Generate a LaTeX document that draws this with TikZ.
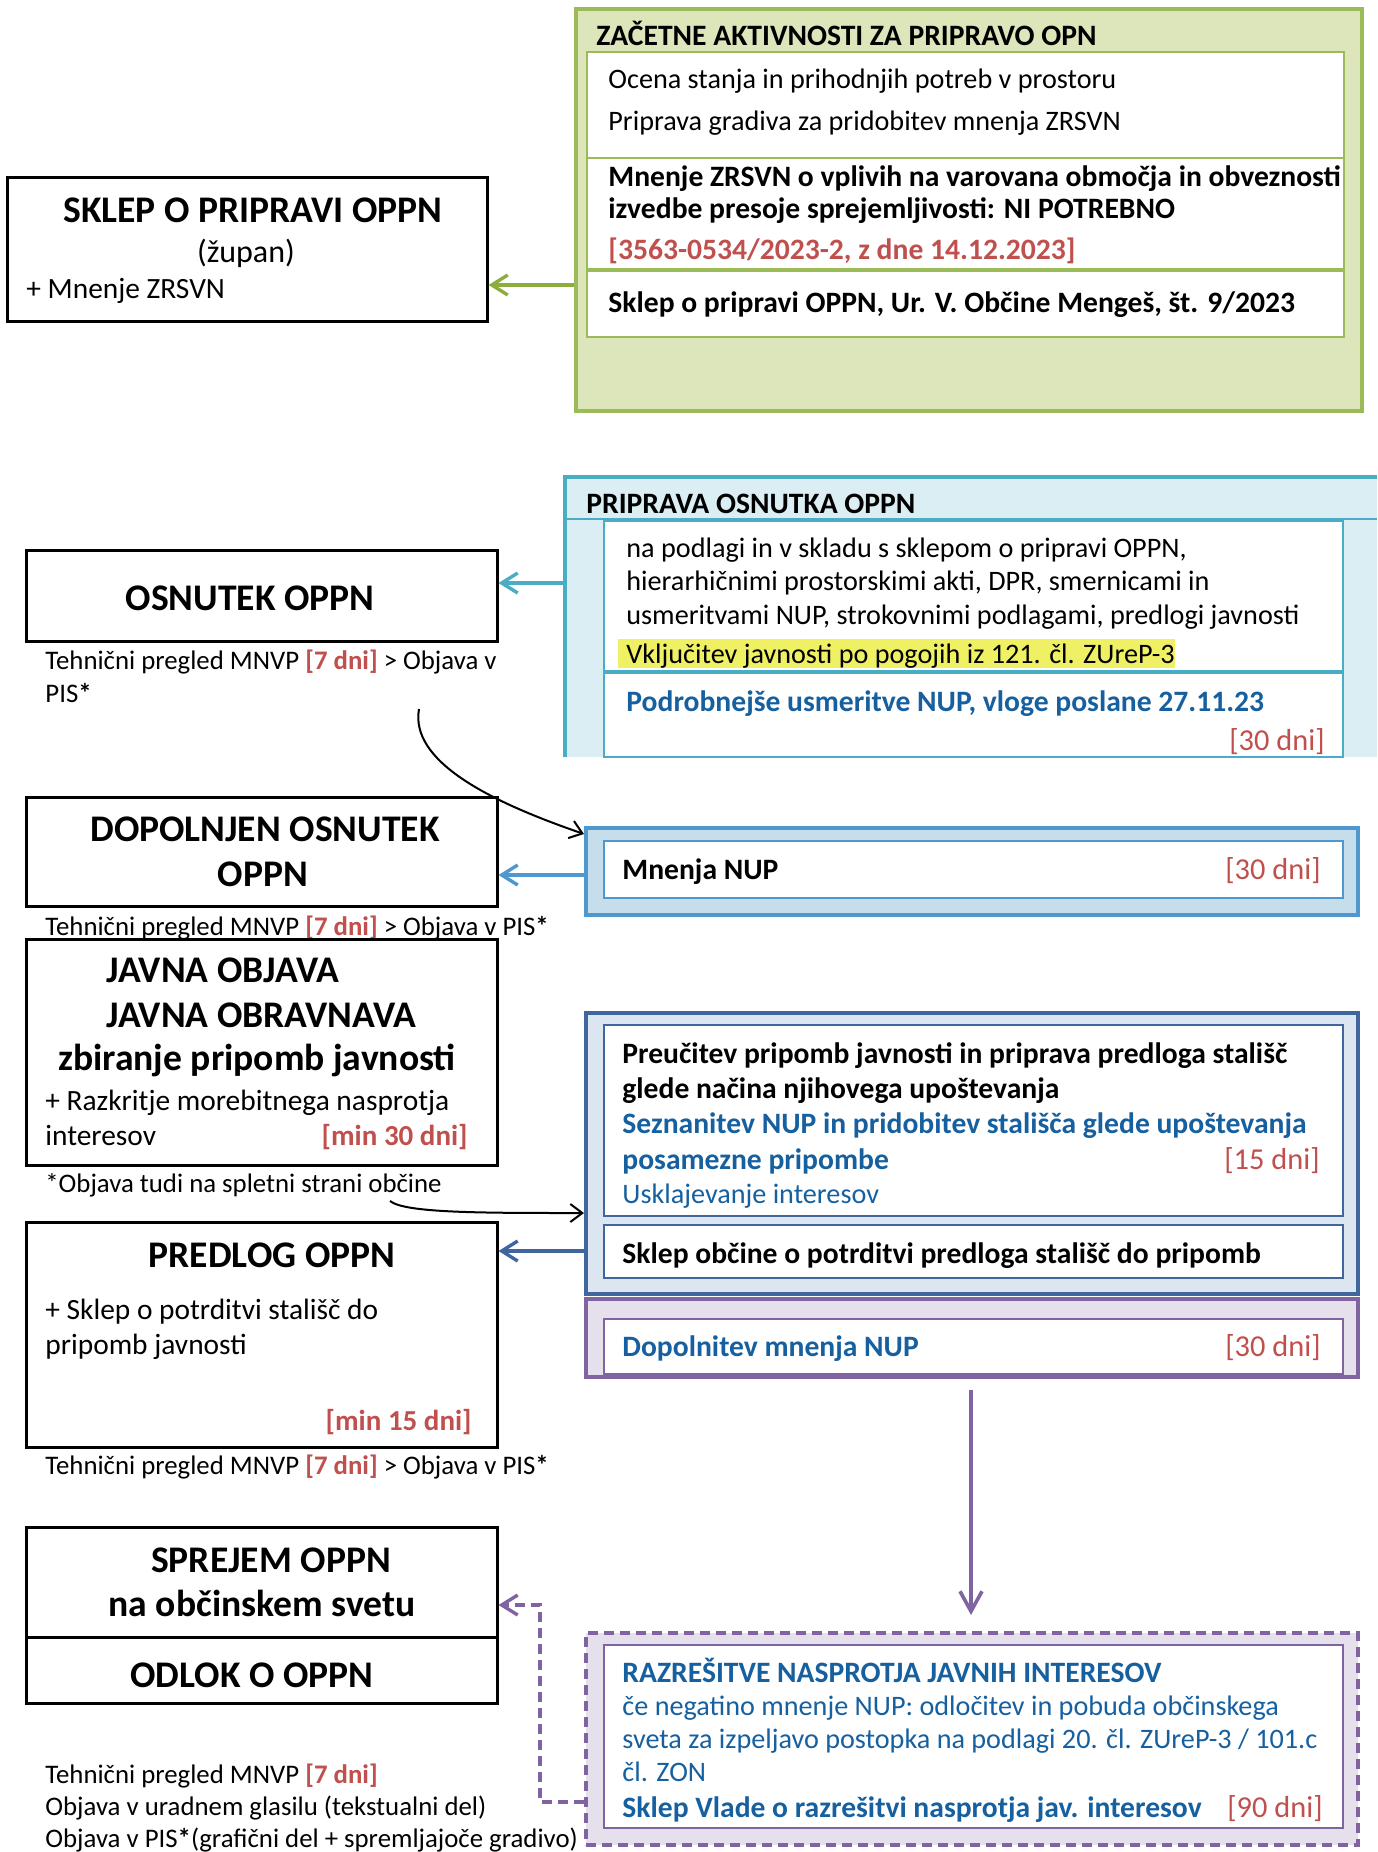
\documentclass[tikz,border=0pt]{standalone}
\usepackage{fontspec}
\setmainfont{Carlito}
\usetikzlibrary{arrows.meta,fit}
\definecolor{grn}{HTML}{9BBB59}
\definecolor{grnfill}{HTML}{DDE5BB}
\definecolor{grnarr}{HTML}{8DAE3E}
\definecolor{aqua}{HTML}{4BACC6}
\definecolor{aquafill}{HTML}{DAEEF3}
\definecolor{mblue}{HTML}{4F98CF}
\definecolor{mbluefill}{HTML}{C6DDEC}
\definecolor{dblue}{HTML}{41669E}
\definecolor{dbluefill}{HTML}{DCE6F1}
\definecolor{purp}{HTML}{8064A2}
\definecolor{purpfill}{HTML}{E5E0EC}
\definecolor{rd}{HTML}{C0504D}
\definecolor{tblue}{HTML}{1660A0}
\definecolor{hl}{HTML}{F0F064}
\newcommand\fb{\fontsize{14.1}{17}\selectfont}
\newcommand\fbb{\fontsize{14.8}{18}\selectfont\bfseries}
\newcommand\fl{\fontsize{13.4}{16}\selectfont}
\newcommand\fin{\fontsize{14.7}{18}\selectfont}
\newcommand\fr{\fontsize{15.2}{18}\selectfont}
\newcommand\fh{\fontsize{18.8}{22}\selectfont\bfseries}
\newcommand\rdb[1]{\textcolor{rd}{\textbf{#1}}}
\begin{document}
\begin{tikzpicture}[x=0.5pt,y=-0.5pt,
  bx/.style={inner sep=0pt, draw=black, line width=1.5pt, fill=white},
  tx/.style={inner sep=0pt, font=\fb},
  tb/.style={inner sep=0pt, font=\fbb},
  tl/.style={inner sep=0pt, font=\fl},
  ti/.style={inner sep=0pt, font=\fin},
  tr/.style={inner sep=0pt, font=\fr, text=rd},
  th/.style={inner sep=0pt, font=\fh},
  arr/.style={line width=1.7pt, -{Straight Barb[length=8pt,width=10pt,line width=1.7pt]}},
  varr/.style={line width=1.8pt, -{Straight Barb[length=10pt,width=11pt,line width=1.8pt]}},
  carr/.style={line width=1pt, black, -{Straight Barb[length=6pt,width=9pt,line width=1pt]}}]
\useasboundingbox (0,0) rectangle (1377,1852);
\fill[white] (0,0) rectangle (1377,1852);

% ---------- green group
\node[fit={(576,9)(1362,411)}, inner sep=0pt, draw=grn, line width=2pt, fill=grnfill] (zac) {};
\node[fit={(587,52)(1344,158)}, inner sep=0pt, draw=grn, line width=1.2pt, fill=white] (zac1) {};
\node[fit={(587,158)(1344,269)}, inner sep=0pt, draw=grn, line width=1.2pt, fill=white] (zac2) {};
\node[fit={(587,269)(1344,337)}, inner sep=0pt, draw=grn, line width=1.2pt, fill=white] (zac3) {};
\draw[grn, line width=2pt] (zac2.south west) -- (zac2.south east);
\node[tb, anchor=base west] (zt) at (596,45) {ZAČETNE AKTIVNOSTI ZA PRIPRAVO OPN};
\node[tx, anchor=base west] (z1) at (608,88) {Ocena stanja in prihodnjih potreb v prostoru};
\node[tx, anchor=base west] (z2) at (608,130) {Priprava gradiva za pridobitev mnenja ZRSVN};
\node[tb, anchor=base west] (z3) at (608,186) {Mnenje ZRSVN o vplivih na varovana območja in obveznosti};
\node[tb, anchor=base west] (z4) at (608,218) {izvedbe presoje sprejemljivosti: NI POTREBNO};
\node[tb, anchor=base west, text=rd] (z5) at (608,259) {[3563-0534/2023-2, z dne 14.12.2023]};
\node[tb, anchor=base west] (z6) at (608,312) {Sklep o pripravi OPPN, Ur. V. Občine Mengeš, št. 9/2023};

% ---------- SKLEP
\node[bx, fit={(7,177)(487,321)}] (sklep) {};
\node[th, anchor=base] (s1) at (253,222) {SKLEP O PRIPRAVI OPPN};
\node[inner sep=0pt, font=\fontsize{16}{19}\selectfont, anchor=base] (s2) at (246,262) {(župan)};
\node[ti, anchor=base west] (s3) at (26,298) {+ Mnenje ZRSVN};
\draw[arr, grnarr] (zac.west |- 0,285) -- (sklep.east |- 0,285);

% ---------- PRIPRAVA OSNUTKA
\node[fit={(565,477)(1377,757)}, inner sep=0pt, fill=aquafill] (prip) {};
\draw[aqua, line width=2pt] (prip.south west) -- (prip.north west) -- (prip.north east);
\draw[aqua, line width=1.2pt] (565,519) -- (1377,519);
\node[fit={(604,521)(1343,671)}, inner sep=0pt, draw=aqua, line width=1.2pt, fill=white] (prip1) {};
\node[fit={(604,673)(1343,757)}, inner sep=0pt, draw=aqua, line width=1.2pt, fill=white] (prip2) {};
\node[fit={(618,639)(1175,668)}, inner sep=0pt, fill=hl] (hlb) {};
\node[tb, anchor=base west] (pt) at (586,513) {PRIPRAVA OSNUTKA OPPN};
\node[tx, anchor=base west] (p1) at (626,557) {na podlagi in v skladu s sklepom o pripravi OPPN,};
\node[tx, anchor=base west] (p2) at (626,590) {hierarhičnimi prostorskimi akti, DPR, smernicami in};
\node[tx, anchor=base west] (p3) at (626,624) {usmeritvami NUP, strokovnimi podlagami, predlogi javnosti};
\node[tx, anchor=base west] (p4) at (626,663) {Vključitev javnosti po pogojih iz 121. čl. ZUreP-3};
\node[tb, anchor=base west, text=tblue] (p5) at (626,711) {Podrobnejše usmeritve NUP, vloge poslane 27.11.23};
\node[tr, anchor=base east] (p6) at (1325,750) {[30 dni]};

% ---------- OSNUTEK
\node[bx, fit={(26,550)(497,641)}] (osn) {};
\node[th, anchor=base] (o1) at (250,610) {OSNUTEK OPPN};
\node[tl, anchor=base west] (o2) at (45,669) {Tehnični pregled MNVP \rdb{[7 dni]} > Objava v};
\node[tl, anchor=base west] (o3) at (45,702) {PIS\textbf{*}};
\draw[arr, aqua] (prip.west |- 0,583) -- (osn.east |- 0,583);

% ---------- Mnenja NUP
\node[fit={(586,828)(1358,915)}, inner sep=0pt, draw=mblue, line width=2pt, fill=mbluefill] (mnup) {};
\node[fit={(604,841)(1343,898)}, inner sep=0pt, draw=mblue, line width=1.2pt, fill=white] (mnup1) {};
\node[tb, anchor=base west] (m1) at (622,879) {Mnenja NUP};
\node[tr, anchor=base east] (m2) at (1321,879) {[30 dni]};

% ---------- DOPOLNJEN
\node[bx, fit={(26,797)(497,906)}] (dopo) {};
\node[th, anchor=base] (d1) at (265,841) {DOPOLNJEN OSNUTEK};
\node[th, anchor=base] (d2) at (263,886) {OPPN};
\node[tl, anchor=base west] (d3) at (45,935) {Tehnični pregled MNVP \rdb{[7 dni]} > Objava v PIS\textbf{*}};
\draw[arr, mblue] (mnup.west |- 0,875) -- (dopo.east |- 0,875);

\coordinate (c1) at (419,709);
\draw[carr] (c1) .. controls (410,760) and (485,800) .. (mnup.west |- 0,834);

% ---------- JAVNA
\node[bx, fit={(26,939)(497,1165)}] (javna) {};
\node[th, anchor=base west] (j1) at (106,982) {JAVNA OBJAVA};
\node[th, anchor=base west] (j2) at (106,1027) {JAVNA OBRAVNAVA};
\node[th, anchor=base] (j3) at (257,1070) {zbiranje pripomb javnosti};
\node[ti, anchor=base west] (j4) at (45,1110) {+ Razkritje morebitnega nasprotja};
\node[ti, anchor=base west] (j5) at (45,1145) {interesov};
\node[inner sep=0pt, font=\fontsize{14.5}{17}\selectfont\bfseries, text=rd, anchor=base east] (j6) at (468,1145) {[min 30 dni]};
\node[tl, anchor=base west] (j7) at (45,1192) {*Objava tudi na spletni strani občine};

% ---------- Preucitev
\node[fit={(586,1013)(1358,1294)}, inner sep=0pt, draw=dblue, line width=2pt, fill=dbluefill] (preu) {};
\node[fit={(604,1025)(1343,1216)}, inner sep=0pt, draw=dblue, line width=1.2pt, fill=white] (preu1) {};
\node[fit={(604,1225)(1343,1278)}, inner sep=0pt, draw=dblue, line width=1.2pt, fill=white] (preu2) {};
\node[tb, anchor=base west] (r1) at (622,1063) {Preučitev pripomb javnosti in priprava predloga stališč};
\node[tb, anchor=base west] (r2) at (622,1098) {glede načina njihovega upoštevanja};
\node[tb, anchor=base west, text=tblue] (r3) at (622,1133) {Seznanitev NUP in pridobitev stališča glede upoštevanja};
\node[tb, anchor=base west, text=tblue] (r4) at (622,1169) {posamezne pripombe};
\node[tr, anchor=base east] (r5) at (1320,1169) {[15 dni]};
\node[tx, anchor=base west, text=tblue] (r6) at (622,1203) {Usklajevanje interesov};
\node[tb, anchor=base west] (r7) at (622,1263) {Sklep občine o potrditvi predloga stališč do pripomb};

\coordinate (c2) at (390,1201);
\draw[carr] (c2) .. controls (405,1213) and (480,1213) .. (preu.west |- 0,1213);

% ---------- Dopolnitev
\node[fit={(586,1299)(1358,1377)}, inner sep=0pt, draw=purp, line width=2pt, fill=purpfill] (dopn) {};
\node[fit={(604,1319)(1343,1374)}, inner sep=0pt, draw=purp, line width=1.2pt, fill=white] (dopn1) {};
\node[tb, anchor=base west, text=tblue] (n1) at (622,1356) {Dopolnitev mnenja NUP};
\node[tr, anchor=base east] (n2) at (1321,1356) {[30 dni]};

% ---------- PREDLOG
\node[bx, fit={(26,1222)(497,1447)}] (pred) {};
\node[th, anchor=base] (e1) at (272,1267) {PREDLOG OPPN};
\node[ti, anchor=base west] (e2) at (45,1319) {+ Sklep o potrditvi stališč do};
\node[ti, anchor=base west] (e3) at (45,1354) {pripomb javnosti};
\node[inner sep=0pt, font=\fontsize{14.5}{17}\selectfont\bfseries, text=rd, anchor=base east] (e4) at (472,1430) {[min 15 dni]};
\node[tl, anchor=base west] (e5) at (45,1474) {Tehnični pregled MNVP \rdb{[7 dni]} > Objava v PIS\textbf{*}};
\draw[arr, dblue] (preu.west |- 0,1251) -- (pred.east |- 0,1251);

% ---------- SPREJEM
\node[bx, fit={(26,1527)(497,1637)}] (sprej) {};
\node[bx, fit={(26,1637)(497,1703)}] (odlok) {};
\node[th, anchor=base] (f1) at (271,1572) {SPREJEM OPPN};
\node[th, anchor=base] (f2) at (262,1616) {na občinskem svetu};
\node[th, anchor=base] (f3) at (252,1687) {ODLOK O OPPN};
\node[tl, anchor=base west] (b1) at (45,1783) {Tehnični pregled MNVP \rdb{[7 dni]}};
\node[tl, anchor=base west] (b2) at (45,1815) {Objava v uradnem glasilu (tekstualni del)};
\node[tl, anchor=base west] (b3) at (45,1847) {Objava v PIS\textbf{*}(grafični del + spremljajoče gradivo)};

% ---------- RAZRESITVE
\node[fit={(586,1633)(1358,1845)}, inner sep=0pt, draw=purp, line width=2pt, dash pattern=on 5pt off 3pt, fill=purpfill] (raz) {};
\node[fit={(604,1645)(1343,1828)}, inner sep=0pt, draw=purp, line width=1pt, fill=white] (raz1) {};
\node[tb, anchor=base west, text=tblue] (z7) at (622,1682) {RAZREŠITVE NASPROTJA JAVNIH INTERESOV};
\node[tx, anchor=base west, text=tblue] (z8) at (622,1715) {če negatino mnenje NUP: odločitev in pobuda občinskega};
\node[tx, anchor=base west, text=tblue] (z9) at (622,1748) {sveta za izpeljavo postopka na podlagi 20. čl. ZUreP-3 / 101.c};
\node[tx, anchor=base west, text=tblue] (z10) at (622,1781) {čl. ZON};
\node[tb, anchor=base west, text=tblue] (z11) at (622,1817) {Sklep Vlade o razrešitvi nasprotja jav. interesov};
\node[tr, anchor=base east] (z12) at (1323,1817) {[90 dni]};

\coordinate (pa) at (971,1390);
\draw[varr, purp, shorten >=8pt] (pa) -- (raz.north -| pa);
\draw[arr, purp, dash pattern=on 5pt off 3pt] (raz.west |- 0,1802) -- ++(-44,0) |- (sprej.east |- 0,1605);
\end{tikzpicture}
\end{document}
